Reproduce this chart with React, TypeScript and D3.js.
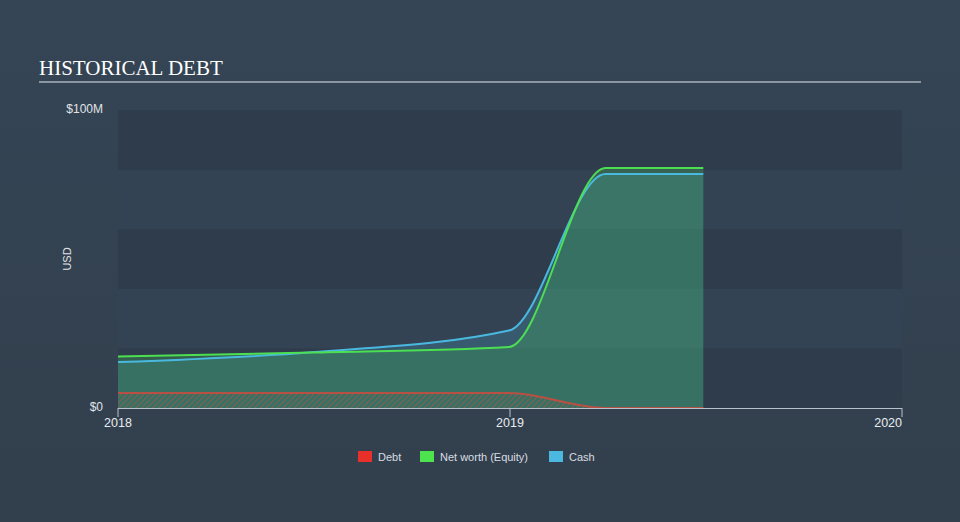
import React from "react";
import * as d3 from "d3";

const dates = ["2018-01-01", "2018-06-30", "2018-12-31", "2019-03-31", "2019-06-30"];
const debt = [5.0, 5.0, 5.0, 0, 0];
const netWorth = [17.3, 18.6, 20.5, 80.5, 80.5];
const cash = [15.4, 18.7, 26.0, 78.5, 78.5];
const xTicks = ["2018", "2019", "2020"];
const yTicks = [0, 100];
const yTickLabels = ["$0", "$100M"];
const bands = [0, 20, 40, 60, 80];

const W = 960, H = 522;
const L = 118, R = 902, T = 110, B = 408;

export default function App() {
  const parse = d3.timeParse("%Y-%m-%d");
  const ds = dates.map((d) => parse(d) as Date);
  const x = d3.scaleTime().domain([parse("2018-01-01") as Date, parse("2020-01-01") as Date]).range([L, R]);
  const y = d3.scaleLinear().domain([0, 100]).range([B, T]);
  const mk = (vals: number[]) => vals.map((v, i) => ({ d: ds[i], v }));
  const line = d3.line<{ d: Date; v: number }>().x((p) => x(p.d)).y((p) => y(p.v)).curve(d3.curveMonotoneX);
  const area = d3.area<{ d: Date; v: number }>().x((p) => x(p.d)).y0(B).y1((p) => y(p.v)).curve(d3.curveMonotoneX);

  const cDebt = "#e0473a";
  const cNet = "#4ddf52";
  const cCash = "#4ab9e0";

  return (
    <svg width={W} height={H} style={{ position: "absolute", left: 0, top: 0 }}>
      <defs>
        <linearGradient id="bg" x1="0" y1="0" x2="0" y2="1">
          <stop offset="0" stopColor="#354555" />
          <stop offset="1" stopColor="#323f4d" />
        </linearGradient>
        <pattern id="hatch" width="4" height="4" patternUnits="userSpaceOnUse" patternTransform="rotate(45)">
          <line x1="0" y1="0" x2="0" y2="4" stroke={cDebt} strokeWidth="1.3" strokeOpacity="0.7" />
        </pattern>
      </defs>
      <rect x={0} y={0} width={W} height={H} fill="url(#bg)" />
      <text x={39} y={75} fontFamily="'Liberation Serif', 'DejaVu Serif', serif" fontSize={21} fill="#ffffff">HISTORICAL DEBT</text>
      <line x1={39} x2={921} y1={82} y2={82} stroke="#aab2bb" strokeWidth={1.5} />

      {bands.map((b, i) => (
        <rect key={b} x={L} width={R - L} y={y(b + 20)} height={y(b) - y(b + 20)}
          fill={i % 2 === 0 ? "#2e3c4b" : "#344353"} />
      ))}

      <path d={area(mk(cash)) || ""} fill={cCash} fillOpacity={0.2} />
      <path d={area(mk(netWorth)) || ""} fill={cNet} fillOpacity={0.2} />
      <path d={area(mk(debt)) || ""} fill="url(#hatch)" />

      <path d={line(mk(debt)) || ""} fill="none" stroke={cDebt} strokeOpacity={0.75} strokeWidth={2} />
      <path d={line(mk(cash)) || ""} fill="none" stroke={cCash} strokeWidth={2} />
      <path d={line(mk(netWorth)) || ""} fill="none" stroke={cNet} strokeWidth={2} />

      <line x1={L} x2={R} y1={B + 0.5} y2={B + 0.5} stroke="#b7c2cc" strokeWidth={1} />
      {xTicks.map((t, i) => {
        const xx = x(parse(`${t}-01-01`) as Date);
        const anchor = i === xTicks.length - 1 ? "end" : "middle";
        return (
          <g key={t}>
            <line x1={xx} x2={xx} y1={B} y2={B + 9} stroke="#b7c2cc" />
            <text x={xx} y={427} textAnchor={anchor} fontFamily="'Liberation Sans', Arial, sans-serif" fontSize={12.5} fill="#e8ecef">{t}</text>
          </g>
        );
      })}
      {yTicks.map((t, i) => (
        <text key={t} x={103} y={y(t) + 3} textAnchor="end" fontFamily="'Liberation Sans', Arial, sans-serif" fontSize={12} fill="#e0e4e8">{yTickLabels[i]}</text>
      ))}
      <text transform={`translate(71,259) rotate(-90)`} textAnchor="middle" fontFamily="'Liberation Sans', Arial, sans-serif" fontSize={11} fill="#e0e4e8">USD</text>

      {[
        { label: "Debt", color: "#e8302a", x: 358 },
        { label: "Net worth (Equity)", color: "#4de34f", x: 420 },
        { label: "Cash", color: "#4bb8e0", x: 549 },
      ].map((l) => (
        <g key={l.label}>
          <rect x={l.x} y={451} width={14} height={11} fill={l.color} />
          <text x={l.x + 20} y={460.5} fontFamily="'Liberation Sans', Arial, sans-serif" fontSize={11} fill="#d8dde2">{l.label}</text>
        </g>
      ))}
    </svg>
  );
}
